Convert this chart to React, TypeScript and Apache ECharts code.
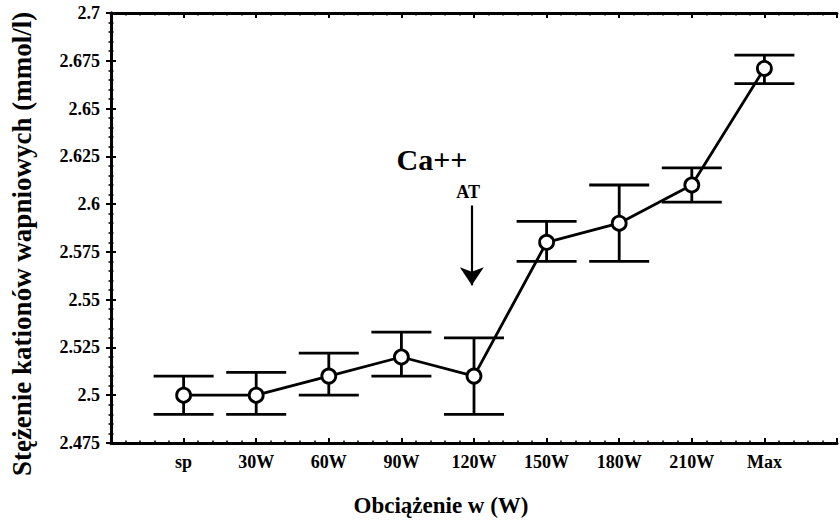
import React, { useEffect, useRef } from "react";
import * as echarts from "echarts";

const categories = ["sp", "30W", "60W", "90W", "120W", "150W", "180W", "210W", "Max"];
const means = [2.5, 2.5, 2.51, 2.52, 2.51, 2.58, 2.59, 2.61, 2.671];
const upper = [2.51, 2.512, 2.522, 2.533, 2.53, 2.591, 2.61, 2.619, 2.678];
const lower = [2.49, 2.49, 2.5, 2.51, 2.49, 2.57, 2.57, 2.601, 2.663];

const yTitle = "Stężenie kationów wapniowych (mmol/l)";
const xTitle = "Obciążenie w (W)";
const noteMain = "Ca++";
const noteSub = "AT";

const FONT = "'Liberation Serif', 'Times New Roman', serif";

export default function App() {
  const ref = useRef<HTMLDivElement>(null);

  useEffect(() => {
    if (!ref.current) return;
    const chart = echarts.init(ref.current, undefined, { renderer: "svg" });

    const axisLine = { show: true, lineStyle: { color: "#000", width: 3 } };
    const axisTick = { show: true, inside: true, length: 5, lineStyle: { color: "#000", width: 2 } };
    const minorTick = { show: true, splitNumber: 5, length: 2.5, lineStyle: { color: "#000", width: 1.5 } };

    const option: any = {
      animation: false,
      backgroundColor: "#fff",
      grid: { left: 111, top: 13, width: 736, height: 430 },
      xAxis: [
        {
          type: "value",
          min: 0,
          max: 10,
          interval: 1,
          axisLine,
          axisTick,
          minorTick,
          splitLine: { show: false },
          axisLabel: {
            formatter: (v: number) => categories[v - 1] ?? "",
            fontFamily: FONT,
            fontWeight: "bold",
            fontSize: 18,
            color: "#000",
            margin: 10,
          },
          name: xTitle,
          nameLocation: "middle",
          nameGap: 51,
          nameTextStyle: { fontFamily: FONT, fontWeight: "bold", fontSize: 23, color: "#000", padding: [0, 66, 0, 0] },
        },
        {
          type: "value",
          position: "top",
          min: 0,
          max: 10,
          interval: 1,
          axisLine,
          axisTick,
          minorTick,
          splitLine: { show: false },
          axisLabel: { show: false },
        },
      ],
      yAxis: [
        {
          type: "value",
          min: 2.475,
          max: 2.7,
          interval: 0.025,
          axisLine,
          axisTick,
          minorTick,
          splitLine: { show: false },
          axisLabel: {
            formatter: (v: number) => String(+v.toFixed(3)),
            fontFamily: FONT,
            fontWeight: "bold",
            fontSize: 18,
            color: "#000",
            margin: 11,
          },
          name: yTitle,
          nameLocation: "middle",
          nameGap: 76,
          nameTextStyle: { fontFamily: FONT, fontWeight: "bold", fontSize: 27, color: "#000", padding: [0, 32, 0, 0] },
        },
        {
          type: "value",
          position: "right",
          min: 2.475,
          max: 2.7,
          interval: 0.025,
          axisLine,
          axisTick,
          minorTick,
          splitLine: { show: false },
          axisLabel: { show: false },
        },
      ],
      series: [
        {
          type: "custom",
          z: 2,
          data: categories.map((_, i) => [i + 1, lower[i], upper[i]]),
          renderItem: (params: any, api: any) => {
            const x = api.value(0);
            const lo = api.coord([x, api.value(1)]);
            const hi = api.coord([x, api.value(2)]);
            const hw = 30;
            const style = { stroke: "#000", lineWidth: 2.8 };
            return {
              type: "group",
              children: [
                { type: "line", shape: { x1: lo[0], y1: lo[1], x2: hi[0], y2: hi[1] }, style },
                { type: "line", shape: { x1: lo[0] - hw, y1: lo[1], x2: lo[0] + hw, y2: lo[1] }, style },
                { type: "line", shape: { x1: hi[0] - hw, y1: hi[1], x2: hi[0] + hw, y2: hi[1] }, style },
              ],
            };
          },
        },
        {
          type: "line",
          z: 3,
          data: means.map((m, i) => [i + 1, m]),
          symbol: "circle",
          symbolSize: 14,
          itemStyle: { color: "#fff", borderColor: "#000", borderWidth: 2.8 },
          lineStyle: { color: "#000", width: 2.8 },
          markLine: {
            silent: true,
            symbol: ["none", "arrow"],
            symbolSize: 18,
            label: { show: false },
            lineStyle: { color: "#000", width: 2.2, type: "solid" },
            data: [[{ coord: [4.97, 2.5993] }, { coord: [4.97, 2.5575] }]],
          },
        },
      ],
    };

    chart.setOption(option);

    const pMain = chart.convertToPixel({ gridIndex: 0 }, [4.42, 2.6235]) as number[];
    const pSub = chart.convertToPixel({ gridIndex: 0 }, [4.92, 2.6063]) as number[];
    chart.setOption({
      graphic: [
        {
          type: "text",
          x: pMain[0],
          y: pMain[1],
          style: {
            text: noteMain,
            fontFamily: FONT,
            fontWeight: "bold",
            fontSize: 30,
            fill: "#000",
            align: "center",
            verticalAlign: "middle",
          },
        },
        {
          type: "text",
          x: pSub[0],
          y: pSub[1],
          style: {
            text: noteSub,
            fontFamily: FONT,
            fontWeight: "bold",
            fontSize: 18,
            fill: "#000",
            align: "center",
            verticalAlign: "middle",
          },
        },
      ],
    });

    return () => chart.dispose();
  }, []);

  return <div ref={ref} style={{ position: "fixed", left: 0, top: 0, width: 840, height: 523 }} />;
}
